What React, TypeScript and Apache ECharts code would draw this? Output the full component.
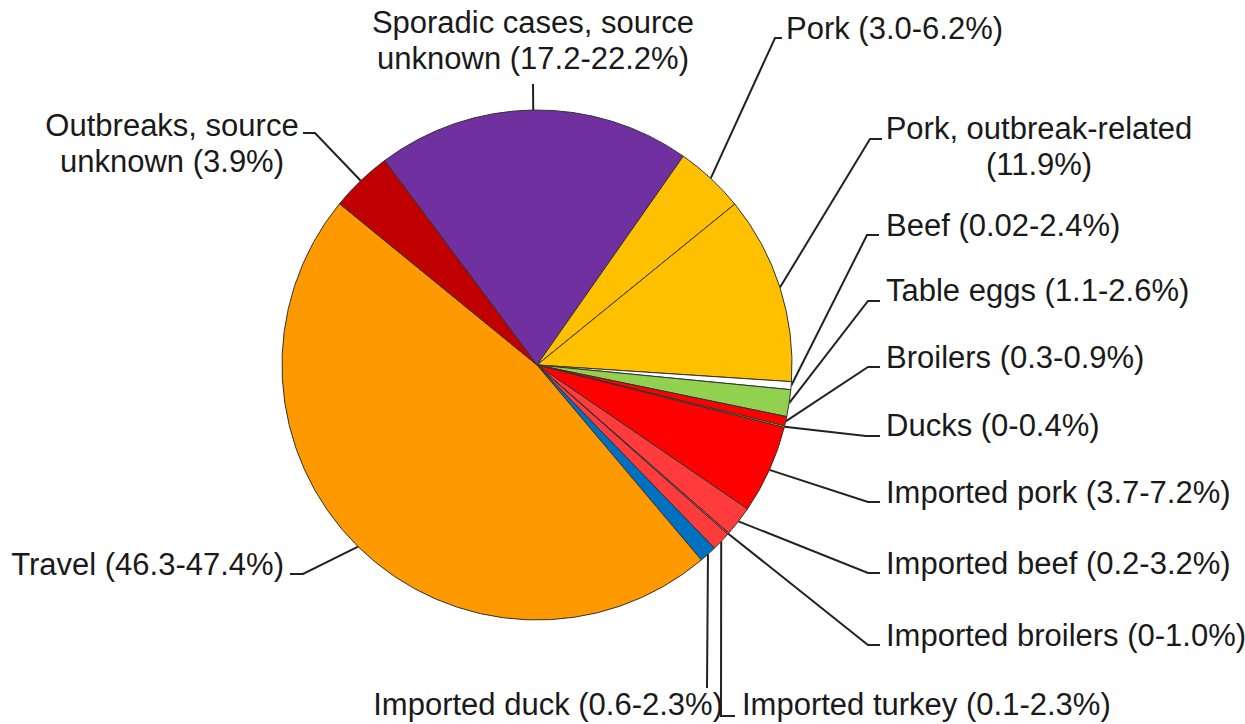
import React, { useEffect, useRef } from 'react';
import * as echarts from 'echarts';

// Slices, clockwise from the upper-left edge of the purple slice
const categories = [
  'Sporadic cases, source unknown',
  'Pork',
  'Pork, outbreak-related',
  'Beef',
  'Table eggs',
  'Broilers',
  'Ducks',
  'Imported pork',
  'Imported beef',
  'Imported broilers',
  'Imported turkey',
  'Imported duck',
  'Travel',
  'Outbreaks, source unknown',
];
// Share of cases (%)
const shares = [19.9, 4.4, 11.9, 0.5, 1.7, 0.6, 0.1, 5.6, 1.9, 0.1, 1.2, 1.1, 47.0, 3.9];
// Label texts as printed
const labelTexts = [
  'Sporadic cases, source\nunknown (17.2-22.2%)',
  'Pork (3.0-6.2%)',
  'Pork, outbreak-related\n(11.9%)',
  'Beef (0.02-2.4%)',
  'Table eggs (1.1-2.6%)',
  'Broilers (0.3-0.9%)',
  'Ducks (0-0.4%)',
  'Imported pork (3.7-7.2%)',
  'Imported beef (0.2-3.2%)',
  'Imported broilers (0-1.0%)',
  'Imported turkey (0.1-2.3%)',
  'Imported duck (0.6-2.3%)',
  'Travel (46.3-47.4%)',
  'Outbreaks, source\nunknown (3.9%)',
];
const sliceColors = [
  '#7030A0', '#FFC000', '#FFC000', '#FFFFFF', '#92D050', '#FF0000', '#FFC000',
  '#FF0000', '#FF3B3B', '#FF3B3B', '#FF3B3B', '#0070C0', '#FF9900', '#C00000',
];

// Label placement (layout only): text anchor and the leader line's bends
type LabelPlace = { x: number; y: number; align: 'left' | 'right' | 'center'; line: number[][] };
const labelPlaces: LabelPlace[] = [
  { x: 533, y: 40, align: 'center', line: [[533, 84]] },
  { x: 786, y: 28, align: 'left', line: [[775, 38], [782, 38]] },
  { x: 1039, y: 146, align: 'center', line: [[870, 139], [882, 139]] },
  { x: 886, y: 225, align: 'left', line: [[867, 235], [879, 235]] },
  { x: 886, y: 290, align: 'left', line: [[868, 301], [880, 301]] },
  { x: 886, y: 357, align: 'left', line: [[868, 367], [880, 367]] },
  { x: 886, y: 425, align: 'left', line: [[866, 436], [880, 436]] },
  { x: 886, y: 492, align: 'left', line: [[868, 502], [880, 502]] },
  { x: 886, y: 563, align: 'left', line: [[868, 573], [880, 573]] },
  { x: 886, y: 635, align: 'left', line: [[868, 645], [880, 645]] },
  { x: 742, y: 704, align: 'left', line: [[721, 716], [735, 716]] },
  { x: 723, y: 704, align: 'right', line: [[707, 688]] },
  { x: 284, y: 564, align: 'right', line: [[303, 574], [290, 574]] },
  { x: 172, y: 143, align: 'center', line: [[315, 133], [303, 133]] },
];

export default function App() {
  const ref = useRef<HTMLDivElement>(null);
  useEffect(() => {
    if (!ref.current) return;
    const chart = echarts.init(ref.current, undefined, { renderer: 'svg' });
    const data = categories.map((name, i) => ({
      name,
      value: shares[i],
      itemStyle: { color: sliceColors[i] },
      label: { formatter: labelTexts[i] },
    }));
    chart.setOption({
      animation: false,
      backgroundColor: '#ffffff',
      series: [
        {
          type: 'pie',
          center: [537, 365],
          radius: 255,
          startAngle: 126.7,
          clockwise: true,
          avoidLabelOverlap: false,
          minShowLabelAngle: 0,
          data,
          itemStyle: { borderColor: '#333333', borderWidth: 1 },
          emphasis: { disabled: true },
          label: {
            show: true,
            position: 'outside',
            color: '#1a1a1a',
            fontFamily: '"Liberation Sans", Arial, sans-serif',
            fontSize: 31,
            lineHeight: 36,
          },
          labelLine: {
            show: true,
            length: 10,
            length2: 10,
            smooth: false,
            lineStyle: { color: '#222222', width: 2 },
          },
          labelLayout: (params: any) => {
            const p = labelPlaces[params.dataIndex];
            const start = params.labelLinePoints ? params.labelLinePoints[0] : null;
            const out: any = { x: p.x, y: p.y, align: p.align, verticalAlign: 'middle' };
            if (start) out.labelLinePoints = [start, ...p.line];
            return out;
          },
        },
      ],
    });
    return () => chart.dispose();
  }, []);
  return (
    <div
      ref={ref}
      style={{ position: 'absolute', left: 0, top: 0, width: 1245, height: 724, background: '#fff' }}
    />
  );
}
